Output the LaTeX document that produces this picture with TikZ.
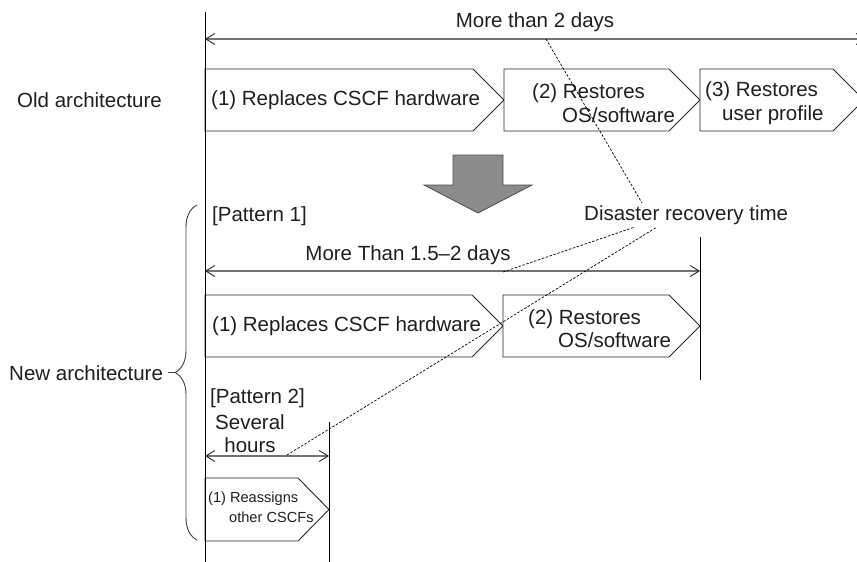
\documentclass[tikz,border=0pt]{standalone}
\usepackage{fontspec}
\setmainfont{Liberation Sans}
\usetikzlibrary{arrows.meta,decorations.pathreplacing}

\tikzset{
  lbl/.style={inner sep=0pt, text=black!88, font=\fontsize{20.5}{23.5}\selectfont},
  small/.style={inner sep=0pt, text=black!88, font=\fontsize{14.6}{20}\selectfont},
  stagebox/.style={draw=black!85, line width=0.9pt, fill=white, line join=miter},
  timeline/.style={draw=black, line width=1pt},
  span/.style={draw=black!55, line width=1.6pt,
    {Straight Barb[length=9pt,width=11pt,line width=0.9pt,color=black!85]}-{Straight Barb[length=9pt,width=11pt,line width=0.9pt,color=black!85]}},
  leader/.style={draw=black, line width=0.7pt, dash pattern=on 2.5pt off 1.6pt},
  bigarrow/.style={fill=black!45, draw=black!70, line width=0.8pt},
  bracestyle/.style={draw=black!75, line width=0.9pt, decorate, decoration={brace, amplitude=22pt}}
}

% pentagon step: left x, tip x, top y, bottom y
\newcommand\stepshape[4]{%
  \draw[stagebox] (#1,#3) -- (#2-31,#3) -- (#2,{(#3+#4)/2}) -- (#2-31,#4) -- (#1,#4) -- cycle;}

\begin{document}
\begin{tikzpicture}[x=1pt, y=-1pt]
\useasboundingbox (0,0) rectangle (857,562);
\clip (0,0) rectangle (857,562);

% ---------- old architecture ----------
\node[lbl, anchor=west] (oldarch) at (17,100) {Old architecture};
\node[lbl] (span2d) at (535,22) {More than 2 days};
\coordinate (t0top) at (205,39);
\coordinate (t0end) at (866,39);

\stepshape{205}{504}{69}{131}
\stepshape{504}{700}{69}{131}
\stepshape{700}{864}{69}{131}
\node[lbl, anchor=west] (o1) at (211,100) {(1) Replaces CSCF hardware};
\node[lbl, anchor=west, align=left] (o2) at (532,103) {(2) Restores\\\hspace*{30pt}OS/software};
\node[lbl, anchor=west, align=left] (o3) at (705,103) {(3) Restores\\\hspace*{17pt}user profile};

% transition arrow
\draw[bigarrow] (453,155) -- (503,155) -- (503,185) -- (532,185) -- (478,213)
  -- (424,185) -- (453,185) -- cycle;

% ---------- new architecture, pattern 1 ----------
\node[lbl, anchor=west] (p1) at (212,216) {[Pattern 1]};
\node[lbl, anchor=west] (drt) at (584,215) {Disaster recovery time};
\node[lbl] (span15) at (408,255) {More Than 1.5--2 days};
\coordinate (t1top) at (700,237);
\coordinate (t1bot) at (700,380);
\coordinate (a1l) at (205,271);
\coordinate (a1r) at (700,271);

\stepshape{205}{503}{295}{357}
\stepshape{503}{700}{295}{357}
\node[lbl, anchor=west] (n1) at (212,326) {(1) Replaces CSCF hardware};
\node[lbl, anchor=west, align=left] (n2) at (528,328.5) {(2) Restores\\\hspace*{30pt}OS/software};

% ---------- new architecture, pattern 2 ----------
\node[lbl, anchor=west] (p2) at (210,398) {[Pattern 2]};
\node[lbl, align=center] (hours) at (250,433.5) {Several\\hours};
\coordinate (t2top) at (329,422);
\coordinate (t2bot) at (329,562);
\coordinate (a2l) at (205,456);
\coordinate (a2r) at (329,456);

\stepshape{205}{329}{478}{541}
\node[small, anchor=west, align=left] (r1) at (208,507) {(1) Reassigns\\\hspace*{21pt}other CSCFs};

% time axes
\coordinate (axtop) at (205,12);
\coordinate (axbot) at (205,562);
\draw[timeline] (axtop) -- (axbot);
\draw[timeline] (t1top) -- (t1bot);
\draw[timeline] (t2top) -- (t2bot);

% durations
\draw[span] (t0top) -- (t0end);
\draw[span] (a1l) -- (a1r);
\draw[span] (a2l) -- (a2r);

% leaders to the recovery-time label
\coordinate (d1a) at (546,39);
\coordinate (d1b) at (642,203);
\coordinate (d2a) at (503,272);
\coordinate (d2b) at (635,227);
\coordinate (d3a) at (287,455);
\coordinate (d3b) at (657,227);
\draw[leader] (d1a) -- (d1b);
\draw[leader] (d2a) -- (d2b);
\draw[leader] (d3a) -- (d3b);

% brace grouping the new architecture
\node[lbl, anchor=west] (newarch) at (9,373) {New architecture};
\coordinate (brb) at (197,540);
\coordinate (brt) at (197,205);
\draw[bracestyle] (brb) -- (brt);
\coordinate (brtip) at (175,372.5);
\coordinate (brtail) at (168,372.5);
\draw[draw=black!75, line width=0.9pt] (brtail) -- (brtip);
\end{tikzpicture}
\end{document}
